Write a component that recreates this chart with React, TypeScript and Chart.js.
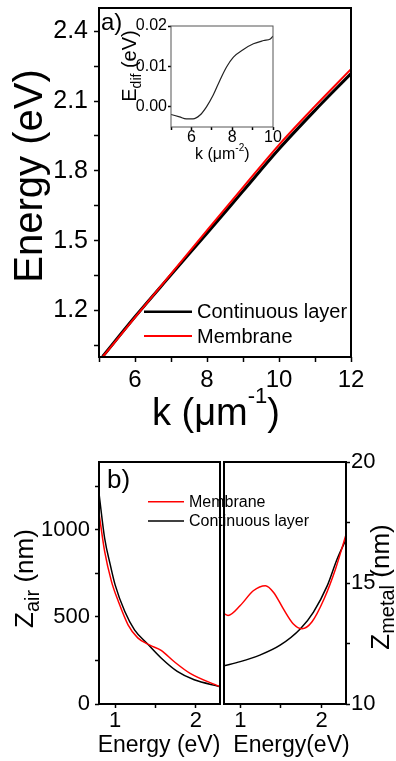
import React, { useEffect, useRef } from 'react';
import { Chart, registerables } from 'chart.js';

Chart.register(...registerables);

const FONT = '"Liberation Sans", Arial, Helvetica, sans-serif';

// ---- Panel a: dispersion E(k) ----
const kMain = [5.1, 6, 7, 8, 9, 10, 11, 12];
const energyMembrane = [1.0, 1.17, 1.357, 1.544, 1.729, 1.912, 2.078, 2.237];
const energyContinuous = [1.002, 1.173, 1.353, 1.532, 1.713, 1.894, 2.06, 2.218];

const aXMajor = [6, 8, 10, 12];
const aXMinor = [5, 7, 9, 11];
const aYMajor = [1.2, 1.5, 1.8, 2.1, 2.4];
const aYMinor = [1.05, 1.35, 1.65, 1.95, 2.25];

// ---- Panel a inset: energy difference ----
const kInset = [5.0, 5.42, 5.75, 6.08, 6.41, 6.74, 7.07, 7.4, 7.73, 8.06, 8.55, 9.04, 9.54, 9.87, 10.0];
const energyDif = [-0.0019, -0.0025, -0.003, -0.003, -0.0021, 0.0, 0.0029, 0.0066, 0.0099, 0.0123, 0.0142, 0.0156, 0.0164, 0.0168, 0.0175];

const insetXMajor = [6, 8, 10];
const insetXMinor = [5, 7, 9];
const insetYMajor = [0, 0.01, 0.02];
const insetYMinor: number[] = [];

// ---- Panel b, left: penetration depth into air ----
const eAirContinuous = [0.8, 0.87, 0.94, 1.0, 1.12, 1.24, 1.4, 1.57, 1.77, 1.98, 2.29];
const zAirContinuous = [1210, 952, 799, 684, 531, 426, 346, 264, 187, 139, 101];
const eAirMembrane = [0.8, 0.87, 0.955, 1.04, 1.16, 1.28, 1.43, 1.57, 1.73, 1.93, 2.29];
const zAirMembrane = [1096, 876, 703, 589, 455, 380, 338, 308, 244, 176, 101];

// ---- Panel b, right: penetration depth into metal ----
const eMetalContinuous = [0.8, 1.0, 1.24, 1.49, 1.74, 1.9, 2.07, 2.19, 2.3];
const zMetalContinuous = [11.58, 11.75, 12.02, 12.43, 13.11, 13.8, 14.89, 15.98, 16.8];
const eMetalMembrane = [0.8, 0.85, 1.0, 1.16, 1.31, 1.41, 1.53, 1.65, 1.76, 1.88, 2.03, 2.17, 2.3];
const zMetalMembrane = [13.73, 13.66, 14.07, 14.68, 14.89, 14.61, 13.93, 13.32, 13.11, 13.39, 14.34, 15.57, 17.0];

const bEMajor = [1, 2];
const bEMinor = [1.5];
const bZairMajor = [0, 500, 1000];
const bZairMinor = [250, 750, 1250];
const bZmetalMajor = [10, 15, 20];
const bZmetalMinor = [12.5, 17.5];

const LABEL_CONT = 'Continuous layer';
const LABEL_MEMB = 'Membrane';
const RED = '#ff0000';
const BLACK = '#000000';

const pts = (xs: number[], ys: number[]) => xs.map((x, i) => ({ x, y: ys[i] }));

type Run = { t: string; size: number; dy?: number };

function drawRuns(
  ctx: CanvasRenderingContext2D,
  runs: Run[],
  x: number,
  y: number,
  align: 'left' | 'center',
  rotated = false
) {
  ctx.save();
  ctx.translate(x, y);
  if (rotated) ctx.rotate(-Math.PI / 2);
  ctx.fillStyle = '#000';
  ctx.textAlign = 'left';
  ctx.textBaseline = 'alphabetic';
  const widths = runs.map((r) => {
    ctx.font = `${r.size}px ${FONT}`;
    return ctx.measureText(r.t).width;
  });
  let cx = align === 'center' ? -widths.reduce((a, b) => a + b, 0) / 2 : 0;
  runs.forEach((r, i) => {
    ctx.font = `${r.size}px ${FONT}`;
    ctx.fillText(r.t, cx, r.dy ?? 0);
    cx += widths[i];
  });
  ctx.restore();
}

function drawLegend(
  chart: any,
  labels: string[],
  x0: number,
  x1: number,
  tx: number,
  ys: number[],
  size: number,
  widths: number[]
) {
  const ctx: CanvasRenderingContext2D = chart.ctx;
  labels.forEach((label, i) => {
    const ds = chart.data.datasets.find((d: any) => d.label === label);
    ctx.save();
    ctx.strokeStyle = ds.borderColor;
    ctx.lineWidth = widths[i];
    ctx.beginPath();
    ctx.moveTo(x0, ys[i]);
    ctx.lineTo(x1, ys[i]);
    ctx.stroke();
    ctx.fillStyle = '#000';
    ctx.font = `${size}px ${FONT}`;
    ctx.textBaseline = 'middle';
    ctx.textAlign = 'left';
    ctx.fillText(label, tx, ys[i] + 1);
    ctx.restore();
  });
}

type AxisSpec = {
  pos: 'left' | 'right' | 'bottom';
  min: number;
  max: number;
  major: number[];
  minor: number[];
  digits: number;
  font: number;
  tick: number;
  pad: number;
  size: number;
};

function axis(s: AxisSpec) {
  const horiz = s.pos === 'bottom';
  return {
    type: 'linear',
    position: s.pos,
    min: s.min,
    max: s.max,
    grid: {
      display: true,
      drawOnChartArea: false,
      drawTicks: true,
      tickLength: s.tick,
      tickWidth: 1.5,
      tickColor: '#000',
    },
    border: { display: false },
    ticks: {
      autoSkip: false,
      maxRotation: 0,
      minRotation: 0,
      padding: s.pad,
      color: '#000',
      font: { family: FONT, size: s.font, lineHeight: 1 },
      callback: (v: number) =>
        s.major.some((m) => Math.abs(m - v) < 1e-9) ? Number(v).toFixed(s.digits) : '',
    },
    afterBuildTicks: (sc: any) => {
      sc.ticks = [...s.major, ...s.minor].sort((a, b) => a - b).map((value) => ({ value }));
    },
    afterFit: (sc: any) => {
      if (horiz) sc.height = s.size;
      else sc.width = s.size;
      sc.paddingLeft = 0;
      sc.paddingRight = 0;
      sc.paddingTop = 0;
      sc.paddingBottom = 0;
    },
  };
}

const frame = (lw: number, color: string) => ({
  id: 'frame',
  afterDraw(chart: any) {
    const { left, top, right, bottom } = chart.chartArea;
    const ctx: CanvasRenderingContext2D = chart.ctx;
    ctx.save();
    ctx.lineWidth = lw;
    ctx.strokeStyle = color;
    ctx.strokeRect(left, top, right - left, bottom - top);
    ctx.restore();
  },
});

const annotate = (fn: (chart: any) => void) => ({
  id: 'annotate',
  afterDraw(chart: any) {
    fn(chart);
  },
});

const line = (label: string, data: any[], color: string, width: number) => ({
  label,
  data,
  borderColor: color,
  backgroundColor: color,
  borderWidth: width,
  pointRadius: 0,
  fill: false,
  cubicInterpolationMode: 'monotone',
});

const baseOptions = (padding: any, scales: any) => ({
  animation: false,
  responsive: false,
  maintainAspectRatio: false,
  events: [],
  layout: { padding },
  plugins: { legend: { display: false }, tooltip: { enabled: false } },
  scales,
});

function configA(): any {
  return {
    type: 'line',
    data: {
      datasets: [
        line(LABEL_MEMB, pts(kMain, energyMembrane), RED, 2),
        line(LABEL_CONT, pts(kMain, energyContinuous), BLACK, 3),
      ],
    },
    options: baseOptions(
      { top: 8, right: 45, left: 0, bottom: 0 },
      {
        x: axis({ pos: 'bottom', min: 5, max: 12, major: aXMajor, minor: aXMinor, digits: 0, font: 24, tick: 5, pad: 6, size: 83 }),
        y: axis({ pos: 'left', min: 1.0, max: 2.5, major: aYMajor, minor: aYMinor, digits: 1, font: 25, tick: 5, pad: 6, size: 99 }),
      }
    ),
    plugins: [
      frame(2, '#000'),
      annotate((chart) => {
        const ctx = chart.ctx;
        drawRuns(ctx, [{ t: 'Energy (eV)', size: 40 }], 42, 176, 'center', true);
        drawRuns(ctx, [{ t: 'k (μm', size: 38 }, { t: '-1', size: 22, dy: -22 }, { t: ')', size: 38 }], 152, 425, 'left');
        drawRuns(ctx, [{ t: 'a)', size: 24 }], 101, 30, 'left');
        drawLegend(chart, [LABEL_CONT, LABEL_MEMB], 144, 192, 197, [311.7, 336], 20, [2.5, 2]);
      }),
    ],
  };
}

function configInset(): any {
  return {
    type: 'line',
    data: { datasets: [line('E_dif', pts(kInset, energyDif), '#222', 1.2)] },
    options: baseOptions(
      { top: 11, right: 17, left: 0, bottom: 0 },
      {
        x: axis({ pos: 'bottom', min: 5, max: 10, major: insetXMajor, minor: insetXMinor, digits: 0, font: 16, tick: 3, pad: 0, size: 43 }),
        y: axis({ pos: 'left', min: -0.005, max: 0.02, major: insetYMajor, minor: insetYMinor, digits: 2, font: 16, tick: 3, pad: 1, size: 61 }),
      }
    ),
    plugins: [
      frame(1, '#555'),
      annotate((chart) => {
        const ctx = chart.ctx;
        drawRuns(ctx, [{ t: 'E', size: 20 }, { t: 'dif', size: 14, dy: 5 }, { t: ' (eV)', size: 20 }], 26, 51, 'center', true);
        drawRuns(ctx, [{ t: 'k (μm', size: 16 }, { t: '-2', size: 10, dy: -8 }, { t: ')', size: 16 }], 85, 144, 'left');
      }),
    ],
  };
}

function configBLeft(): any {
  return {
    type: 'line',
    data: {
      datasets: [
        line(LABEL_MEMB, pts(eAirMembrane, zAirMembrane), RED, 1.5),
        line(LABEL_CONT, pts(eAirContinuous, zAirContinuous), BLACK, 1.5),
      ],
    },
    options: baseOptions(
      { top: 22, right: 176, left: 0, bottom: 0 },
      {
        x: axis({ pos: 'bottom', min: 0.8, max: 2.3, major: bEMajor, minor: bEMinor, digits: 0, font: 22, tick: 4, pad: 2, size: 57 }),
        y: axis({ pos: 'left', min: 0, max: 1390, major: bZairMajor, minor: bZairMinor, digits: 0, font: 22, tick: 4, pad: 5, size: 99 }),
      }
    ),
    plugins: [
      frame(2, '#000'),
      annotate((chart) => {
        const ctx = chart.ctx;
        drawRuns(ctx, [{ t: 'b)', size: 26 }], 107, 48, 'left');
        drawLegend(chart, [LABEL_MEMB, LABEL_CONT], 148, 184, 189, [61.7, 81], 16, [1.5, 1.5]);
        drawRuns(ctx, [{ t: 'Energy (eV)', size: 23 }], 159, 312, 'center');
        drawRuns(ctx, [{ t: 'Z', size: 26 }, { t: 'air', size: 20, dy: 6 }, { t: ' (nm)', size: 26 }], 33, 138.5, 'center', true);
      }),
    ],
  };
}

function configBRight(): any {
  return {
    type: 'line',
    data: {
      datasets: [
        line(LABEL_MEMB, pts(eMetalMembrane, zMetalMembrane), RED, 1.5),
        line(LABEL_CONT, pts(eMetalContinuous, zMetalContinuous), BLACK, 1.5),
      ],
    },
    options: baseOptions(
      { top: 22, right: 0, left: 224, bottom: 0 },
      {
        x: axis({ pos: 'bottom', min: 0.8, max: 2.3, major: bEMajor, minor: bEMinor, digits: 0, font: 22, tick: 4, pad: 2, size: 57 }),
        y: axis({ pos: 'right', min: 10, max: 20, major: bZmetalMajor, minor: bZmetalMinor, digits: 0, font: 22, tick: 4, pad: 1, size: 50 }),
      }
    ),
    plugins: [
      frame(2, '#000'),
      annotate((chart) => {
        const ctx = chart.ctx;
        drawRuns(ctx, [{ t: 'Energy(eV)', size: 23 }], 291.5, 312, 'center');
        drawRuns(ctx, [{ t: 'Z', size: 26 }, { t: 'metal', size: 20, dy: 5 }, { t: ' (nm)', size: 26 }], 389, 147, 'center', true);
      }),
    ],
  };
}

function ChartCanvas(props: { left: number; top: number; width: number; height: number; make: () => any }) {
  const ref = useRef<HTMLCanvasElement | null>(null);
  useEffect(() => {
    if (!ref.current) return;
    const chart = new Chart(ref.current, props.make());
    return () => chart.destroy();
  }, []);
  return (
    <canvas
      ref={ref}
      width={props.width}
      height={props.height}
      style={{
        position: 'absolute',
        left: props.left,
        top: props.top,
        width: props.width,
        height: props.height,
      }}
    />
  );
}

export default function App() {
  return (
    <div
      style={{
        position: 'absolute',
        left: 0,
        top: 0,
        width: 396,
        height: 761,
        background: '#fff',
        overflow: 'hidden',
      }}
    >
      <ChartCanvas left={0} top={0} width={396} height={440} make={configA} />
      <ChartCanvas left={110} top={15} width={180} height={155} make={configInset} />
      <ChartCanvas left={0} top={440} width={396} height={321} make={configBLeft} />
      <ChartCanvas left={0} top={440} width={396} height={321} make={configBRight} />
    </div>
  );
}
